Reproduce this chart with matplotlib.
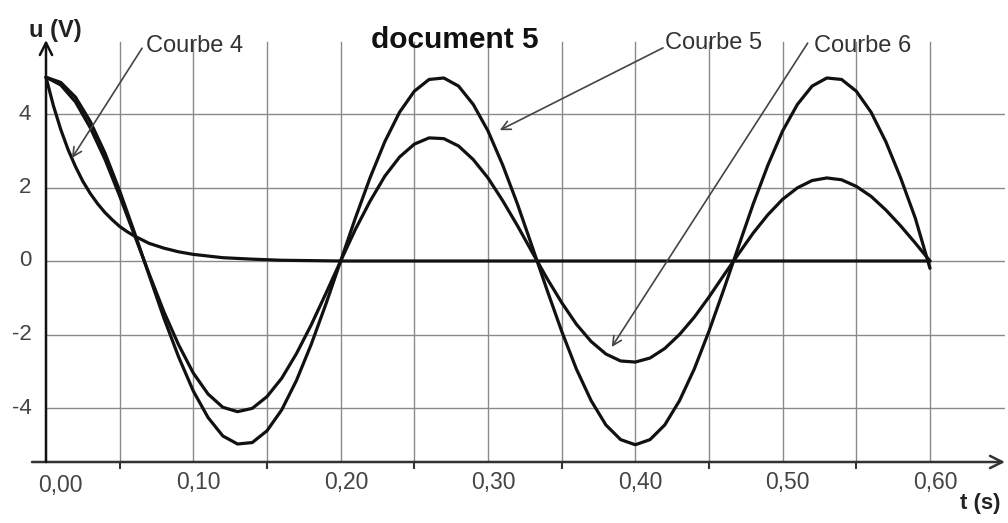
import matplotlib
matplotlib.use("Agg")
import matplotlib.pyplot as plt

plt.rcParams['font.family'] = ['Liberation Sans', 'DejaVu Sans']

# ---- data ----
t_56 = [0.00, 0.01, 0.02, 0.03, 0.04, 0.05, 0.06, 0.07, 0.08, 0.09,
        0.10, 0.11, 0.12, 0.13, 0.14, 0.15, 0.16, 0.17, 0.18, 0.19,
        0.20, 0.21, 0.22, 0.23, 0.24, 0.25, 0.26, 0.27, 0.28, 0.29,
        0.30, 0.31, 0.32, 0.33, 0.34, 0.35, 0.36, 0.37, 0.38, 0.39,
        0.40, 0.41, 0.42, 0.43, 0.44, 0.45, 0.46, 0.47, 0.48, 0.49,
        0.50, 0.51, 0.52, 0.53, 0.54, 0.55, 0.56, 0.57, 0.58, 0.59, 0.60]
u_courbe5 = [5.00, 4.86, 4.46, 3.80, 2.94, 1.91, 0.78, -0.39, -1.55, -2.61,
             -3.54, -4.26, -4.76, -4.98, -4.94, -4.62, -4.05, -3.25, -2.27, -1.17,
             0.00, 1.17, 2.27, 3.25, 4.05, 4.62, 4.94, 4.98, 4.76, 4.26,
             3.54, 2.61, 1.55, 0.39, -0.78, -1.91, -2.94, -3.80, -4.46, -4.86,
             -5.00, -4.86, -4.46, -3.80, -2.94, -1.91, -0.78, 0.39, 1.55, 2.61,
             3.54, 4.26, 4.76, 4.98, 4.94, 4.62, 4.05, 3.25, 2.27, 1.17, -0.20]
u_courbe6 = [5.00, 4.79, 4.33, 3.63, 2.77, 1.77, 0.71, -0.35, -1.38, -2.28,
             -3.05, -3.62, -3.98, -4.10, -4.01, -3.69, -3.19, -2.52, -1.74, -0.88,
             0.00, 0.86, 1.63, 2.31, 2.83, 3.18, 3.35, 3.33, 3.13, 2.76,
             2.26, 1.64, 0.96, 0.24, -0.47, -1.13, -1.72, -2.19, -2.53, -2.72,
             -2.75, -2.64, -2.38, -2.00, -1.53, -0.98, -0.39, 0.19, 0.76, 1.26,
             1.68, 1.99, 2.19, 2.26, 2.21, 2.03, 1.76, 1.39, 0.96, 0.49, 0.00]
t_4 = [0.000, 0.005, 0.010, 0.015, 0.020, 0.025, 0.030, 0.035, 0.040, 0.045,
       0.050, 0.055, 0.060, 0.070, 0.080, 0.090, 0.100, 0.120, 0.140, 0.160,
       0.180, 0.200, 0.600]
u_courbe4 = [5.00, 4.23, 3.58, 3.03, 2.57, 2.17, 1.84, 1.56, 1.32, 1.12,
             0.94, 0.80, 0.68, 0.48, 0.35, 0.25, 0.18, 0.09, 0.05, 0.02,
             0.01, 0.00, 0.00]

x_ticks = [0.00, 0.10, 0.20, 0.30, 0.40, 0.50, 0.60]
x_tick_labels = ["0,00", "0,10", "0,20", "0,30", "0,40", "0,50", "0,60"]
y_ticks = [-4, -2, 0, 2, 4]
y_tick_labels = ["-4", "-2", "0", "2", "4"]
x_grid = [0.05, 0.10, 0.15, 0.20, 0.25, 0.30, 0.35, 0.40, 0.45, 0.50, 0.55, 0.60]
x_minor_ticks = [0.05, 0.15, 0.25, 0.35, 0.45, 0.55]

labels = ["Courbe 4", "Courbe 5", "Courbe 6"]

# ---- figure ----
W, H = 1008, 523
fig = plt.figure(figsize=(W / 100, H / 100), dpi=100)
x0px, x1px = 32, 1005
ytop_px, ybot_px = 40, 462
ax = fig.add_axes([x0px / W, 1 - ybot_px / H, (x1px - x0px) / W, (ybot_px - ytop_px) / H])
pxu_x = 1473.3
pxu_y = 36.75
xmin = (x0px - 46) / pxu_x
xmax = (x1px - 46) / pxu_x
ymin = (261 - ybot_px) / pxu_y
ymax = (261 - ytop_px) / pxu_y
ax.set_xlim(xmin, xmax)
ax.set_ylim(ymin, ymax)
for s in ax.spines.values():
    s.set_visible(False)

grid_c = "#8a8a8a"
for xv in x_grid:
    ax.plot([xv, xv], [ymin, 5.96], color=grid_c, lw=1.0, zorder=1)
for yv in y_ticks:
    ax.plot([0, xmax], [yv, yv], color=grid_c, lw=1.0, zorder=1)

# axes with arrows
ax.annotate("", xy=(xmax, ymin), xytext=(xmin, ymin),
            arrowprops=dict(arrowstyle="->", color="#333333", lw=1.8,
                            mutation_scale=22, shrinkA=0, shrinkB=0), zorder=3)
ax.annotate("", xy=(0, ymax), xytext=(0, ymin),
            arrowprops=dict(arrowstyle="->", color="#111111", lw=1.8,
                            mutation_scale=22, shrinkA=0, shrinkB=0), zorder=3)

# ticks
ax.set_xticks(x_minor_ticks)
ax.set_xticklabels([])
ax.set_yticks([])
ax.tick_params(axis="x", direction="out", length=5, width=1.5, color="#333333")

tc = "#444444"
for xv, lab in zip(x_ticks, x_tick_labels):
    off = 0.010 if xv == 0 else 0.0035
    ax.text(xv + off, ymin - 0.55 - (0.1 if xv == 0 else 0), lab, ha="center", va="center",
            fontsize=16.5, color=tc)
for yv, lab in zip(y_ticks, y_tick_labels):
    ax.text(-0.010, yv, lab, ha="right", va="center", fontsize=16, color=tc)

# curves
line_kw = dict(color="#111111", lw=2.3, zorder=4, solid_capstyle="round",
               solid_joinstyle="round")
ax.plot(t_4, u_courbe4, **line_kw)
ax.plot(t_56, u_courbe5, **line_kw)
ax.plot(t_56, u_courbe6, **line_kw)

# labels with arrows
arr = dict(arrowstyle="->", color="#444444", lw=1.2, mutation_scale=16, shrinkA=0, shrinkB=0)
ax.annotate("", xy=(0.0176, 2.80), xytext=(0.0652, 5.79), arrowprops=arr, zorder=5)
ax.annotate("", xy=(0.308, 3.56), xytext=(0.4188, 5.80), arrowprops=arr, zorder=5)
ax.annotate("", xy=(0.384, -2.34), xytext=(0.517, 5.93), arrowprops=arr, zorder=5)
ax.text(0.0680, 5.85, labels[0], ha="left", va="center", fontsize=17, color="#333333")
ax.text(0.4200, 5.92, labels[1], ha="left", va="center", fontsize=17, color="#333333")
ax.text(0.5215, 5.85, labels[2], ha="left", va="center", fontsize=17, color="#333333")

fig.text(455 / W, 1 - 40 / H, "document 5", ha="center", va="center",
         fontsize=21.5, fontweight="bold", color="#111111")
fig.text(55 / W, 1 - 30 / H, "u (V)", ha="center", va="center",
         fontsize=17, fontweight="bold", color="#222222")
fig.text(980 / W, 1 - 503 / H, "t (s)", ha="center", va="center",
         fontsize=16, fontweight="bold", color="#222222")

fig.savefig("out.png", dpi=100)
